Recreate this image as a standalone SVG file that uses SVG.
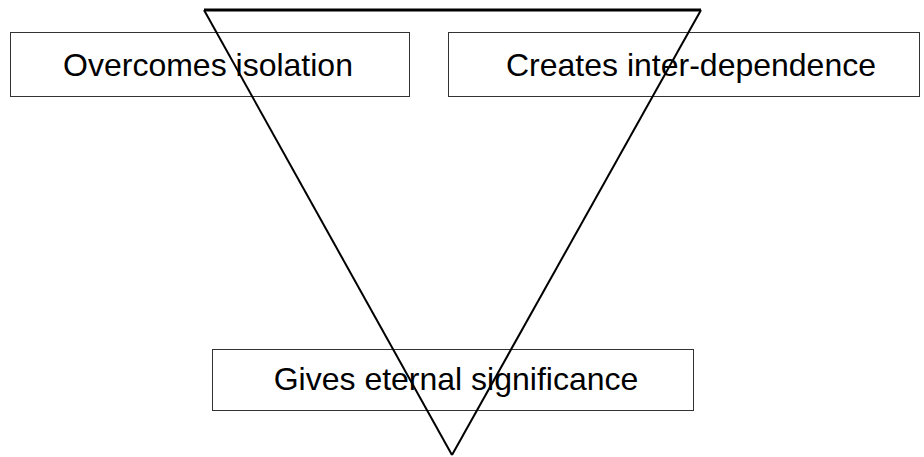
<svg xmlns="http://www.w3.org/2000/svg" width="924" height="457" viewBox="0 0 924 457">
<style>
.box{fill:#fff;stroke:#333;stroke-width:1}
.t{font-family:"Liberation Sans",Arial,sans-serif;font-size:32px;fill:#000;text-anchor:middle}
</style>
<rect width="924" height="457" fill="#fff"/>
<g id="n1"><rect class="box" x="10.5" y="32.5" width="399" height="64"/><text class="t" x="208" y="76">Overcomes isolation</text></g>
<g id="n2"><rect class="box" x="448.5" y="32.5" width="471" height="64"/><text class="t" x="691" y="76">Creates inter-dependence</text></g>
<g id="n3"><rect class="box" x="212.5" y="349.5" width="481" height="61"/><text class="t" x="456" y="390">Gives eternal significance</text></g>
<g id="connectors">
<line x1="204" y1="10" x2="701" y2="10" stroke="#000" stroke-width="3"/>
<line x1="204" y1="10" x2="452" y2="455" stroke="#000" stroke-width="2"/>
<line x1="701" y1="10" x2="452" y2="455" stroke="#000" stroke-width="2"/>
</g>
</svg>
